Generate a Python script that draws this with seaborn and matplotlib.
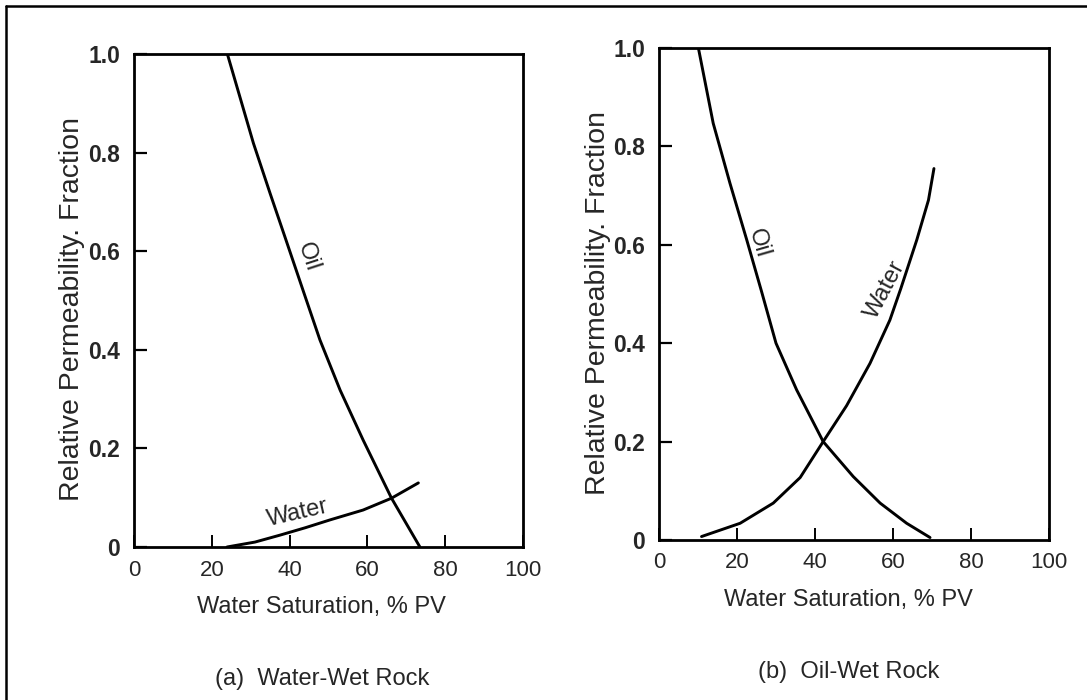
import numpy as np
import pandas as pd
import matplotlib
matplotlib.use("Agg")
import matplotlib.pyplot as plt
from matplotlib.lines import Line2D
import seaborn as sns

# --- data (water saturation %, relative permeability) ---
ww_oil_sw = [24.0, 30.7, 35.0, 38.8, 44.0, 47.8, 53.0, 58.9, 66.2, 73.5]
ww_oil_kr = [1.0, 0.819, 0.717, 0.629, 0.508, 0.420, 0.318, 0.217, 0.099, 0.0]
ww_water_sw = [23.9, 31.1, 37.5, 44.0, 50.4, 58.9, 66.2, 73.1]
ww_water_kr = [0.0, 0.01, 0.024, 0.039, 0.055, 0.075, 0.099, 0.130]

ow_oil_sw = [10.1, 13.9, 18.2, 22.5, 26.3, 30.0, 35.3, 42.1, 49.8, 56.7, 63.5, 69.5]
ow_oil_kr = [1.0, 0.847, 0.725, 0.610, 0.505, 0.400, 0.305, 0.200, 0.129, 0.075, 0.034, 0.005]
ow_water_sw = [10.9, 20.8, 29.3, 36.2, 42.1, 48.1, 54.1, 59.2, 62.0, 66.1, 69.1, 70.5]
ow_water_kr = [0.007, 0.034, 0.075, 0.127, 0.200, 0.273, 0.359, 0.447, 0.511, 0.610, 0.691, 0.755]

x_ticks = [0, 20, 40, 60, 80, 100]
y_ticks = [0, 0.2, 0.4, 0.6, 0.8, 1.0]
y_tick_labels = ["0", "0.2", "0.4", "0.6", "0.8", "1.0"]

x_label = "Water Saturation, % PV"
y_label = "Relative Permeability. Fraction"
captions = ["(a)  Water-Wet Rock", "(b)  Oil-Wet Rock"]

sns.set_style("white")
plt.rcParams["font.family"] = ["Liberation Sans", "DejaVu Sans"]

W, H = 1087, 700
fig = plt.figure(figsize=(W / 100, H / 100), dpi=100)


def px_axes(x0, x1, y_top, y_bot):
    return fig.add_axes([x0 / W, 1 - y_bot / H, (x1 - x0) / W, (y_bot - y_top) / H])


ax_a = px_axes(134, 523, 54, 547)
ax_b = px_axes(659, 1049, 48, 540)

panels = [
    (ax_a, ww_oil_sw, ww_oil_kr, ww_water_sw, ww_water_kr),
    (ax_b, ow_oil_sw, ow_oil_kr, ow_water_sw, ow_water_kr),
]

for ax, osw, okr, wsw, wkr in panels:
    oil = pd.DataFrame({"sw": osw, "kr": okr})
    water = pd.DataFrame({"sw": wsw, "kr": wkr})
    sns.lineplot(data=oil, x="sw", y="kr", ax=ax, sort=False, color="black", lw=2.1)
    sns.lineplot(data=water, x="sw", y="kr", ax=ax, sort=False, color="black", lw=2.1)
    ax.set_xlim(0, 100)
    ax.set_ylim(0, 1.0)
    ax.set_xticks(x_ticks)
    ax.set_xticklabels([str(t) for t in x_ticks], fontsize=16)
    ax.set_yticks(y_ticks)
    ax.set_yticklabels(y_tick_labels, fontsize=16.5, fontweight="bold")
    ax.tick_params(axis="x", bottom=True, direction="in", length=9, width=1.4, pad=9, color="black")
    ax.tick_params(axis="y", left=True, direction="in", length=9, width=1.6, pad=10, color="black")
    for s in ax.spines.values():
        s.set_visible(True)
        s.set_color("black")
        s.set_linewidth(2.0)
    ax.set_xlabel(x_label, fontsize=17, va="center")
    ax.set_ylabel(y_label, fontsize=20.5, va="center")

ax_a.xaxis.set_label_coords(0.481, -0.122)
ax_a.yaxis.set_label_coords(-0.159, 0.483)
ax_b.xaxis.set_label_coords(0.485, -0.122)
ax_b.yaxis.set_label_coords(-0.156, 0.482)

# curve labels
lab = dict(ha="center", va="center", rotation_mode="anchor", fontsize=17)
ax_a.text(44.8, 0.589, "Oil", rotation=-72, **lab)
ax_a.text(42.2, 0.069, "Water", rotation=13, **lab)
ax_b.text(25.6, 0.603, "Oil", rotation=-74, **lab)
ax_b.text(58.1, 0.508, "Water", rotation=62, **lab)

# captions under each panel
fig.text(322 / W, 1 - 679 / H, captions[0], ha="center", va="center", fontsize=17)
fig.text(849 / W, 1 - 672 / H, captions[1], ha="center", va="center", fontsize=17)

# frame lines (top and left edge of the scanned figure)
fig.add_artist(Line2D([6 / W, 1.0], [1 - 6 / H, 1 - 6 / H], color="black", lw=1.8))
fig.add_artist(Line2D([6 / W, 6 / W], [1 - 6 / H, 0.0], color="black", lw=1.8))

fig.savefig("out.png", dpi=100)
